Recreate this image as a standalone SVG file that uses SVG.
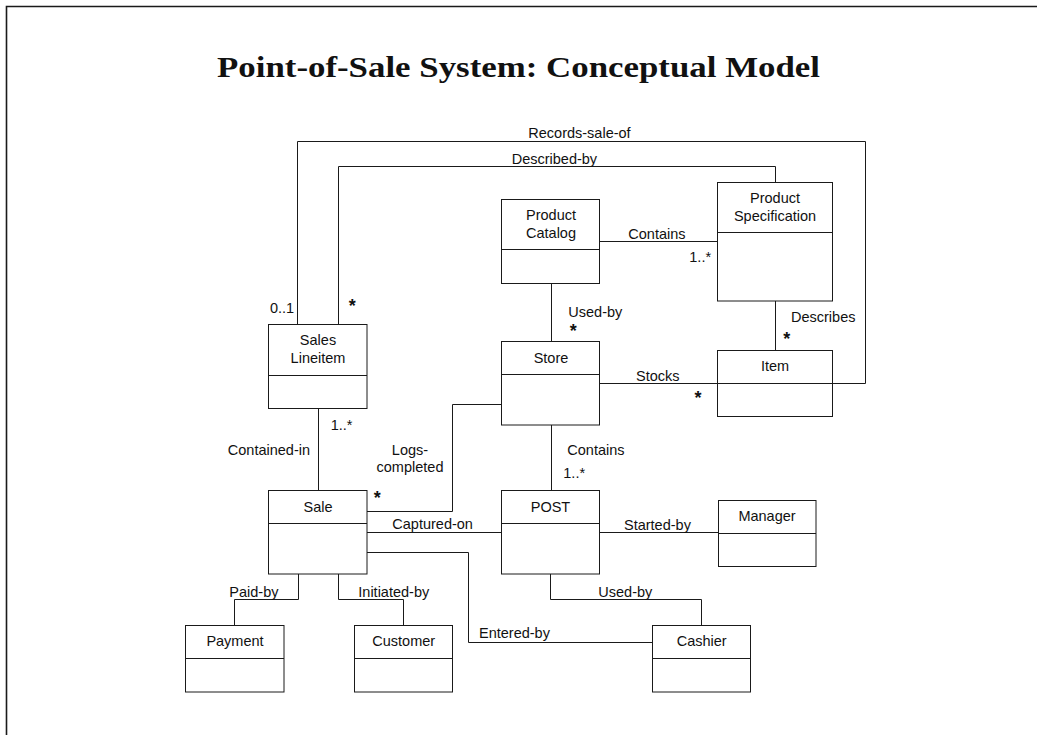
<svg xmlns="http://www.w3.org/2000/svg" width="1037" height="735" viewBox="0 0 1037 735">
  <style>
    .frame { fill: none; stroke: #1a1a1a; stroke-width: 1.6; }
    .box { fill: #ffffff; stroke: #1a1a1a; stroke-width: 1; }
    .sep { stroke: #1a1a1a; stroke-width: 1; }
    .conn { fill: none; stroke: #1a1a1a; stroke-width: 1; }
    .t { font-family: "Liberation Sans", Arial, sans-serif; font-size: 14.5px; fill: #111111; }
    .c { text-anchor: middle; }
    .star { font-family: "Liberation Sans", Arial, sans-serif; font-size: 18px; font-weight: bold; fill: #111111; text-anchor: middle; }
    .title { font-family: "Liberation Serif", "Times New Roman", serif; font-size: 30px; font-weight: bold; fill: #111111; text-anchor: middle; }
  </style>

  <rect width="1037" height="735" fill="#ffffff"/>
  <path class="frame" d="M6.5 735 V6.5 H1037"/>

  <text class="title" x="518.5" y="77" textLength="603" lengthAdjust="spacingAndGlyphs">Point-of-Sale System: Conceptual Model</text>

  <!-- associations -->
  <g id="connectors">
    <path class="conn" d="M297.5 324.5 V141.5 H865.5 V383.5 H832"/>
    <path class="conn" d="M338.5 324.5 V166.5 H775.5 V182"/>
    <path class="conn" d="M599.5 241.5 H717.5"/>
    <path class="conn" d="M551.5 283.5 V341.5"/>
    <path class="conn" d="M775.5 301 V350"/>
    <path class="conn" d="M599.5 383.5 H717.5"/>
    <path class="conn" d="M318.5 408.5 V490.5"/>
    <path class="conn" d="M501.5 404.5 H452.5 V511.5 H367"/>
    <path class="conn" d="M551.5 425 V490.5"/>
    <path class="conn" d="M367 532.5 H501.5"/>
    <path class="conn" d="M599.5 532.5 H718.5"/>
    <path class="conn" d="M367 552.5 H468.5 V642.5 H652.5"/>
    <path class="conn" d="M298.5 574 V599.5 H234.5 V625.5"/>
    <path class="conn" d="M338.5 574 V599.5 H403.5 V625.5"/>
    <path class="conn" d="M550.5 574 V599.5 H701.5 V625.5"/>

    <text class="t" x="528.3" y="138.3">Records-sale-of</text>
    <text class="t" x="511.7" y="164">Described-by</text>
    <text class="t" x="270" y="313.3">0..1</text>
    <text class="star" x="352.3" y="312">*</text>
    <text class="t" x="628.3" y="239">Contains</text>
    <text class="t" x="689.3" y="261.7">1..*</text>
    <text class="t" x="568.3" y="316.7">Used-by</text>
    <text class="star" x="573.3" y="337">*</text>
    <text class="t" x="791" y="321.7">Describes</text>
    <text class="star" x="786.7" y="345">*</text>
    <text class="t" x="636" y="381">Stocks</text>
    <text class="star" x="698" y="404">*</text>
    <text class="t" x="330.7" y="430">1..*</text>
    <text class="t" x="227.8" y="455">Contained-in</text>
    <text class="t c" x="410" y="455">Logs-</text>
    <text class="t c" x="410" y="472.3">completed</text>
    <text class="t" x="567.3" y="455">Contains</text>
    <text class="t" x="563.3" y="478">1..*</text>
    <text class="star" x="377.3" y="504.3">*</text>
    <text class="t" x="392.3" y="529.3">Captured-on</text>
    <text class="t" x="624" y="530">Started-by</text>
    <text class="t" x="229.3" y="597.3">Paid-by</text>
    <text class="t" x="358.3" y="597.3">Initiated-by</text>
    <text class="t" x="598.3" y="597">Used-by</text>
    <text class="t" x="479" y="638.3">Entered-by</text>
  </g>

  <g id="product-catalog">
    <rect class="box" x="501.5" y="199.5" width="98" height="84"/>
    <line class="sep" x1="501.5" y1="249.5" x2="599.5" y2="249.5"/>
    <text class="t c" x="551" y="220">Product</text>
    <text class="t c" x="551" y="238.3">Catalog</text>
  </g>

  <g id="product-specification">
    <rect class="box" x="717.5" y="182.5" width="115" height="118.5"/>
    <line class="sep" x1="717.5" y1="232.5" x2="832.5" y2="232.5"/>
    <text class="t c" x="775" y="203">Product</text>
    <text class="t c" x="775" y="220.7">Specification</text>
  </g>

  <g id="sales-lineitem">
    <rect class="box" x="268.5" y="324.5" width="98.5" height="84"/>
    <line class="sep" x1="268.5" y1="375.5" x2="367" y2="375.5"/>
    <text class="t c" x="318" y="345">Sales</text>
    <text class="t c" x="318" y="363.3">Lineitem</text>
  </g>

  <g id="store">
    <rect class="box" x="501.5" y="341.5" width="98" height="83.5"/>
    <line class="sep" x1="501.5" y1="374.5" x2="599.5" y2="374.5"/>
    <text class="t c" x="551" y="362.7">Store</text>
  </g>

  <g id="item">
    <rect class="box" x="717.5" y="350.5" width="115" height="66"/>
    <line class="sep" x1="717.5" y1="383.5" x2="832.5" y2="383.5"/>
    <text class="t c" x="775" y="370.7">Item</text>
  </g>

  <g id="sale">
    <rect class="box" x="268.5" y="490.5" width="98.5" height="83.5"/>
    <line class="sep" x1="268.5" y1="523.5" x2="367" y2="523.5"/>
    <text class="t c" x="318" y="511.7">Sale</text>
  </g>

  <g id="post">
    <rect class="box" x="501.5" y="490.5" width="98" height="83.5"/>
    <line class="sep" x1="501.5" y1="523.5" x2="599.5" y2="523.5"/>
    <text class="t c" x="550.5" y="511.7">POST</text>
  </g>

  <g id="manager">
    <rect class="box" x="718.5" y="500.5" width="97.5" height="66"/>
    <line class="sep" x1="718.5" y1="533.5" x2="816" y2="533.5"/>
    <text class="t c" x="767" y="520.7">Manager</text>
  </g>

  <g id="payment">
    <rect class="box" x="185.5" y="625.5" width="98.5" height="66.5"/>
    <line class="sep" x1="185.5" y1="658.5" x2="284" y2="658.5"/>
    <text class="t c" x="235" y="646">Payment</text>
  </g>

  <g id="customer">
    <rect class="box" x="354.5" y="625.5" width="98" height="66.5"/>
    <line class="sep" x1="354.5" y1="658.5" x2="452.5" y2="658.5"/>
    <text class="t c" x="403.7" y="646">Customer</text>
  </g>

  <g id="cashier">
    <rect class="box" x="652.5" y="625.5" width="98" height="66.5"/>
    <line class="sep" x1="652.5" y1="658.5" x2="750.5" y2="658.5"/>
    <text class="t c" x="701.7" y="645.7">Cashier</text>
  </g>
</svg>
